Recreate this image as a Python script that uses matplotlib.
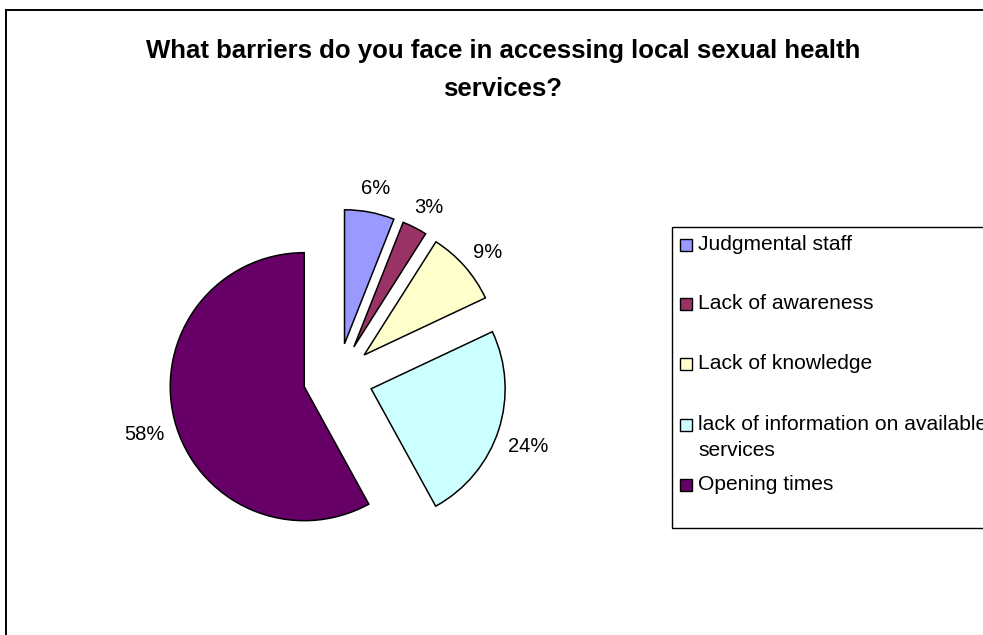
import matplotlib
matplotlib.use("Agg")
from matplotlib import pyplot as plt
import matplotlib.patches as mpatches

plt.rcParams['font.family'] = ['Liberation Sans', 'DejaVu Sans']

# data
categories = ["Judgmental staff", "Lack of awareness", "Lack of knowledge",
              "lack of information on available\nservices", "Opening times"]
values = [6, 3, 9, 24, 58]
colours = ["#9999FF", "#993366", "#FFFFCC", "#CCFFFF", "#660066"]

W, H = 983, 635
fig = plt.figure(figsize=(W / 100, H / 100), dpi=100)

def px(x, y):
    # pixel coords from top-left -> figure fraction
    return x / W, 1 - y / H

# outer chart frame (right/bottom run off the picture)
fig.patches.append(mpatches.Rectangle(px(6, 660), 1010 / W, 650 / H,
                                      transform=fig.transFigure, fill=False,
                                      edgecolor="black", lw=1.4))

fig.text(503 / W, 1 - 70 / H,
         "What barriers do you face in accessing local sexual health\nservices?",
         ha="center", va="center", fontsize=18.5, fontweight="bold",
         linespacing=1.7)

# pie, radius 1 == 134 px, centre at (338, 378)
cx, cy, r = 338, 378, 134
half = 200
ax = fig.add_axes([(cx - half) / W, (H - cy - half) / H, 2 * half / W, 2 * half / H])
wedges, texts, autotexts = ax.pie(values, colors=colours, startangle=90,
                                  counterclock=False, explode=[0.26] * len(values),
                                  autopct='%1.0f%%', pctdistance=1.23,
                                  wedgeprops=dict(edgecolor="black", linewidth=1.1),
                                  textprops=dict(fontsize=14.5, color="black"))
# excel sits the labels a little lower
for t in autotexts:
    x, y = t.get_position()
    t.set_position((x, y - 7 / r))
lim = half / r
ax.set_xlim(-lim, lim)
ax.set_ylim(-lim, lim)
ax.set_aspect("equal")
ax.axis("off")

# legend box drawn by hand (runs off the right edge like the original)
fig.patches.append(mpatches.Rectangle(px(672, 528), 400 / W, (528 - 227) / H,
                                      transform=fig.transFigure, fill=False,
                                      edgecolor="black", lw=1.0))
entry_y = [245, 304, 364, 425, 485]
for lab, col, y in zip(categories, colours, entry_y):
    fig.patches.append(mpatches.Rectangle(px(680, y + 6), 12 / W, 12 / H,
                                          transform=fig.transFigure,
                                          facecolor=col, edgecolor="black", lw=1.0))
    fig.text(698 / W, 1 - (y - 10) / H, lab, ha="left", va="top",
             fontsize=15.1, linespacing=1.45)

fig.savefig("out.png", dpi=100, facecolor="white")
